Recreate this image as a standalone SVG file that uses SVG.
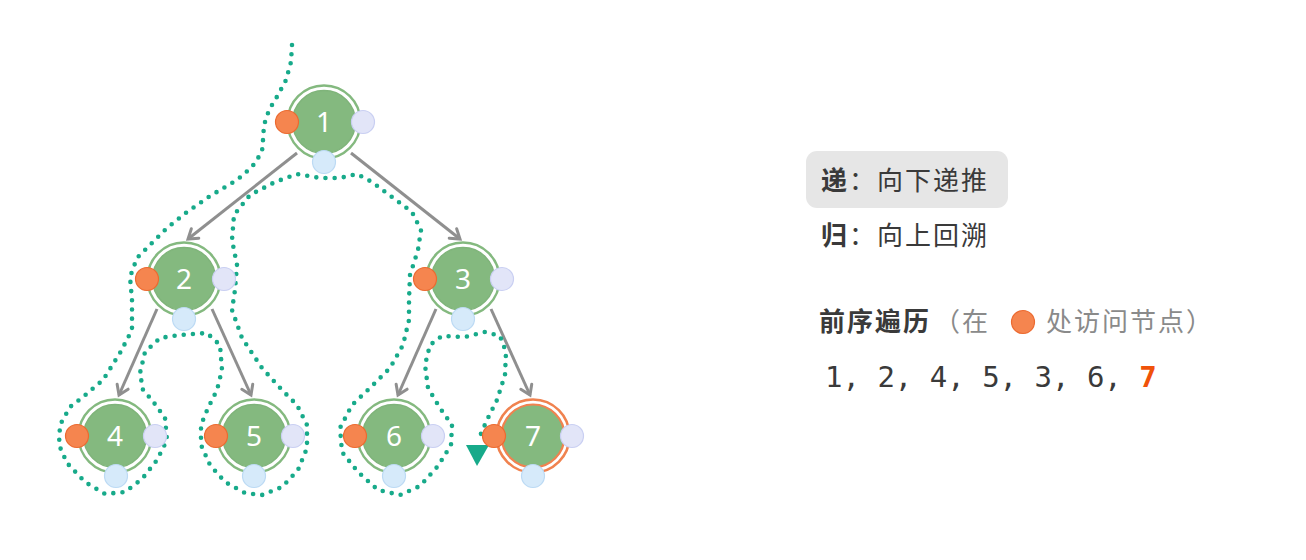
<svg xmlns="http://www.w3.org/2000/svg" width="1306" height="560" viewBox="0 0 1306 560">
<defs>
<style>
.ring{fill:none;stroke:#84b97f;stroke-width:2.4}
.body{fill:#84b97f;stroke:#7fb47a;stroke-width:1.5}
.ring7{fill:none;stroke:#f0824f;stroke-width:2.6}
.body7{fill:#84b97f;stroke:#f0824f;stroke-width:2.2}
.num{font-family:"Noto Sans","Open Sans",sans-serif;font-size:28px;fill:#ffffff;text-anchor:middle}
.pre{fill:#f5854f;stroke:#ec6a30;stroke-width:1.2}
.post{fill:#e2e5f8;stroke:#c9cff2;stroke-width:1.2}
.mid{fill:#d6eafa;stroke:#bcdaf4;stroke-width:1.2}
.edge{stroke:#8f8f8f;stroke-width:3;fill:none;marker-end:url(#arr)}
.walk{fill:none;stroke:#17aa8a;stroke-width:4.6;stroke-linecap:round;stroke-linejoin:round;stroke-dasharray:0 9.2}
.cjk{font-family:"Noto Sans CJK SC","Noto Sans",sans-serif;font-size:26px;letter-spacing:2px;fill:#3a3a3a}
.b{font-weight:bold}
.grey{fill:#8a8a8a}
.seq{font-family:"DejaVu Sans Mono","Liberation Mono",monospace;font-size:29px;fill:#3a3a3a}
</style>
<marker id="arr" markerUnits="userSpaceOnUse" markerWidth="16" markerHeight="16" refX="12" refY="8" orient="auto">
<path d="M3,2 L12,8 L3,14" fill="none" stroke="#8f8f8f" stroke-width="3" stroke-linecap="round" stroke-linejoin="miter"/>
</marker>
</defs>
<rect width="1306" height="560" fill="#ffffff"/>
<g id="connectors">
<line class="edge" x1="297" y1="153" x2="188" y2="239"/>
<line class="edge" x1="351" y1="153" x2="460" y2="239"/>
<line class="edge" x1="157" y1="309" x2="119" y2="395"/>
<line class="edge" x1="212" y1="309" x2="251" y2="395"/>
<line class="edge" x1="436" y1="309" x2="398" y2="395"/>
<line class="edge" x1="491" y1="309" x2="530" y2="395"/>
<path class="walk" d="M292,45 L291,62 L286,80 L278,95 L269,110 L264,125 L263,140 L262,152 L252,167 L237,180 L210,196 L187,212 L167,228 L150,245 L137,258 L130,277 L132,300 L132,330 L120,353 L103,380 L83,397 L70,407 L60,425 L59,445 L67,463 L85,482 L105,494 L125,492 L142,479 L157,460 L167,440 L165,418 L152,400 L143,390 L140,373 L145,352 L160,338 L180,335 L207,333 L220,345 L222,370 L217,390 L208,408 L201,425 L201,445 L210,465 L225,482 L245,493 L262,495 L282,487 L298,470 L307,448 L307,425 L297,405 L282,390 L262,368 L242,338 L232,310 L235,290 L237,265 L232,240 L234,215 L250,195 L275,182 L297,174 L320,178 L340,178 L357,174 L372,182 L392,197 L412,212 L421,230 L418,250 L410,275 L409,300 L409,320 L403,345 L390,368 L370,388 L352,405 L340,428 L342,452 L358,472 L378,490 L400,495 L420,486 L438,466 L451,445 L452,425 L440,408 L428,388 L425,365 L430,345 L442,336 L465,337 L485,332 L500,336 L506,352 L505,375 L497,400 L487,420 L480,436"/>
<polygon points="466,445 489,445 477,466" fill="#17aa8a"/>
</g>
<g id="node1">
<circle class="ring" cx="324" cy="122" r="36.5"/>
<circle class="body" cx="324" cy="122" r="31.5"/>
<text class="num" x="324" y="132">1</text>
<circle class="pre" cx="287" cy="122" r="11.5"/>
<circle class="post" cx="363" cy="122" r="11.5"/>
<circle class="mid" cx="324" cy="162" r="11.5"/>
</g>
<g id="node2">
<circle class="ring" cx="184" cy="279" r="36.5"/>
<circle class="body" cx="184" cy="279" r="31.5"/>
<text class="num" x="184" y="289">2</text>
<circle class="pre" cx="147" cy="279" r="11.5"/>
<circle class="post" cx="224" cy="279" r="11.5"/>
<circle class="mid" cx="184" cy="319" r="11.5"/>
</g>
<g id="node3">
<circle class="ring" cx="463" cy="279" r="36.5"/>
<circle class="body" cx="463" cy="279" r="31.5"/>
<text class="num" x="463" y="289">3</text>
<circle class="pre" cx="425" cy="279" r="11.5"/>
<circle class="post" cx="502" cy="279" r="11.5"/>
<circle class="mid" cx="463" cy="319" r="11.5"/>
</g>
<g id="node4">
<circle class="ring" cx="115" cy="436" r="36.5"/>
<circle class="body" cx="115" cy="436" r="31.5"/>
<text class="num" x="115" y="446">4</text>
<circle class="pre" cx="77" cy="436" r="11.5"/>
<circle class="post" cx="155" cy="436" r="11.5"/>
<circle class="mid" cx="116" cy="476" r="11.5"/>
</g>
<g id="node5">
<circle class="ring" cx="254" cy="436" r="36.5"/>
<circle class="body" cx="254" cy="436" r="31.5"/>
<text class="num" x="254" y="446">5</text>
<circle class="pre" cx="216" cy="436" r="11.5"/>
<circle class="post" cx="293" cy="436" r="11.5"/>
<circle class="mid" cx="254" cy="476" r="11.5"/>
</g>
<g id="node6">
<circle class="ring" cx="394" cy="436" r="36.5"/>
<circle class="body" cx="394" cy="436" r="31.5"/>
<text class="num" x="394" y="446">6</text>
<circle class="pre" cx="355" cy="436" r="11.5"/>
<circle class="post" cx="433" cy="436" r="11.5"/>
<circle class="mid" cx="394" cy="476" r="11.5"/>
</g>
<g id="node7">
<circle class="ring7" cx="533" cy="436" r="36.5"/>
<circle class="body7" cx="533" cy="436" r="31.5"/>
<text class="num" x="533" y="446">7</text>
<circle class="pre" cx="494" cy="436" r="11.5"/>
<circle class="post" cx="572" cy="436" r="11.5"/>
<circle class="mid" cx="533" cy="476" r="11.5"/>
</g>
<g id="legend">
<rect x="806" y="151" width="202" height="57" rx="11" fill="#e6e6e6"/>
<text class="cjk" x="821" y="190"><tspan class="b">递</tspan>：向下递推</text>
<text class="cjk" x="821" y="245"><tspan class="b">归</tspan>：向上回溯</text>
<text class="cjk b" x="819" y="331">前序遍历</text>
<text class="cjk grey" x="934" y="331">（在</text>
<circle class="pre" cx="1023" cy="322" r="11.5"/>
<text class="cjk grey" x="1046" y="331">处访问节点）</text>
<text class="seq" x="825" y="387" xml:space="preserve">1, 2, 4, 5, 3, 6, <tspan font-weight="bold" fill="#f0520a">7</tspan></text>
</g>
</svg>
